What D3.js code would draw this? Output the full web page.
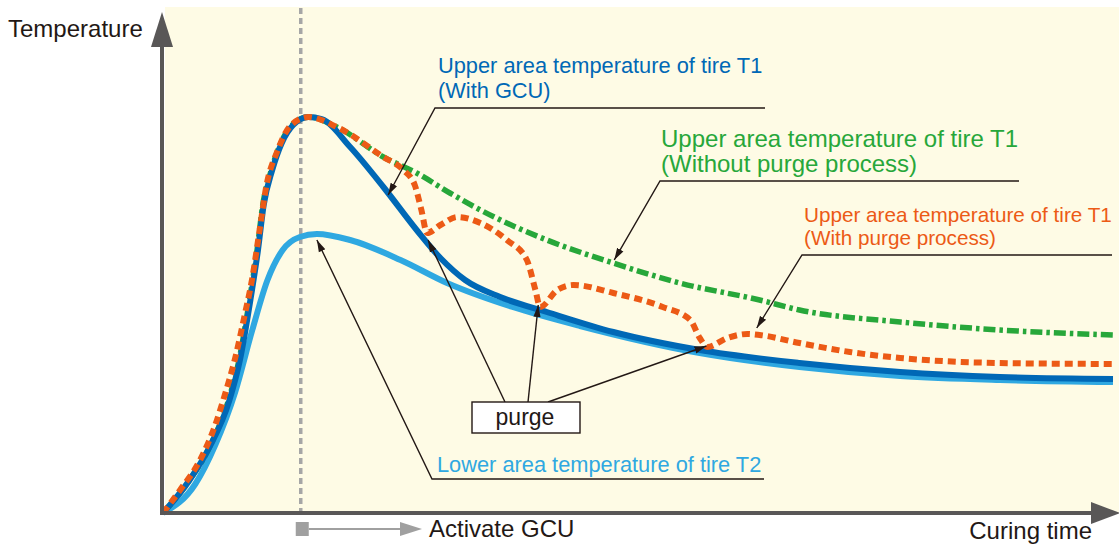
<!DOCTYPE html>
<html>
<head>
<meta charset="utf-8">
<script src="https://cdn.jsdelivr.net/npm/d3@7"></script>
<style>
  body { margin: 0; background: #fff; }
  svg { display: block; font-family: "Liberation Sans", Arial, sans-serif; }
</style>
</head>
<body>
<div id="chart"></div>
<script>
// ---------------------------------------------------------------------------
// Data (time and temperature in relative units, 0..100)

const gcuStart = 14.5;

// upper area T1, with GCU
const t1WithGcu = [
  [0, 0], [2.8, 6.6], [4.9, 13.2], [7.0, 22.6], [8.1, 30.6], [9.2, 42.6],
  [10.0, 52.6], [10.6, 61.6], [11.5, 68.6], [12.5, 74], [13.7, 77.6],
  [15.3, 79.2], [16.7, 78.8], [19.7, 73.2], [23.2, 65.2], [26.7, 56.6],
  [29.2, 51], [31.8, 46.6], [35.5, 43.2], [40.4, 40.2], [47.4, 36.2],
  [56.5, 32.6], [67.0, 30], [77.6, 28.2], [88.1, 27.2], [100, 26.8]
];

// lower area T2
const t2Lower = [
  [0, 0], [3.4, 5.8], [5.5, 13.6], [7.6, 24.2], [9.4, 36.6], [11.0, 46.6],
  [12.6, 52.6], [14.4, 55.2], [16.2, 55.8], [19.7, 54.6], [25.0, 50.6],
  [29.9, 46], [36.8, 41.2], [43.9, 37.4], [56.5, 32], [67.0, 29.2],
  [77.6, 27.4], [88.1, 26.6], [100, 26.2]
];

// upper area T1, without purge process
const t1NoPurge = [
  [0, 0], [2.8, 6.6], [4.9, 13.2], [6.9, 22.6], [8.0, 30.6], [9.1, 42.6],
  [9.9, 52.6], [10.5, 61.6], [11.4, 68.6], [12.4, 74], [13.6, 77.6],
  [15.3, 79.2], [18.3, 77.2], [23.2, 71.2], [26.7, 68], [30.2, 64],
  [33.4, 60.6], [40.4, 54.6], [47.4, 50], [54.4, 46], [62.8, 42.6],
  [67.0, 40.6], [77.6, 38.2], [88.1, 36.6], [100, 35.6]
];

// upper area T1, with purge process
const t1Purge = [
  [0, 0], [1.8, 4.6], [3.9, 10.6], [5.5, 17.6], [6.5, 23.6], [7.6, 31],
  [8.6, 39.6], [9.4, 47], [10.2, 57], [10.9, 65.6], [12.0, 72.2],
  [13.4, 77.4], [15.3, 79.2], [18.3, 77.2], [23.2, 71.2], [25.3, 68.6],
  [26.5, 65.6], [27.2, 60.6], [27.8, 56], [29.2, 57.6], [31.0, 59.2],
  [33.4, 58], [36.2, 54.6], [38.3, 50.6], [39.2, 44.6], [39.7, 41.2],
  [41.5, 44.6], [43.2, 45.6], [47.4, 44], [52.6, 41.2], [55.5, 38.6],
  [56.5, 35], [57.3, 33.2], [59.4, 35], [61.5, 35.8], [62.8, 35.6],
  [67.0, 34], [72.3, 32.2], [77.6, 31], [88.1, 30], [100, 29.8]
];

const labelT1Gcu = ['Upper area temperature of tire T1', '(With GCU)'];
const labelT1NoPurge = ['Upper area temperature of tire T1', '(Without purge process)'];
const labelT1Purge = ['Upper area temperature of tire T1', '(With purge process)'];
const labelT2 = ['Lower area temperature of tire T2'];

// points the purge arrows target
const purgePoints = [[27.9, 54.6], [39.5, 41.6], [57.2, 33.4]];

// ---------------------------------------------------------------------------
// Layout

const width = 1119;
const height = 544;
const axisColor = '#595757';
const inkColor = '#231815';

const x = d3.scaleLinear().domain([0, 100]).range([163, 1113]);
const y = d3.scaleLinear().domain([0, 100]).range([513, 13]);

const svg = d3.select('#chart')
  .append('svg')
  .attr('width', width)
  .attr('height', height);

const defs = svg.append('defs');
defs.append('marker')
  .attr('id', 'tip')
  .attr('markerUnits', 'userSpaceOnUse')
  .attr('viewBox', '0 -5 12 10')
  .attr('refX', 12).attr('refY', 0)
  .attr('markerWidth', 12).attr('markerHeight', 10)
  .attr('orient', 'auto')
  .append('path')
  .attr('d', 'M0,-3.6L12,0L0,3.6Z')
  .attr('fill', inkColor);

// plot background
svg.append('rect')
  .attr('x', 165).attr('y', 7)
  .attr('width', width - 165).attr('height', 506)
  .attr('fill', '#fefbe5');

// GCU start line
svg.append('line')
  .attr('x1', x(gcuStart)).attr('x2', x(gcuStart))
  .attr('y1', 8).attr('y2', y(0))
  .attr('stroke', '#a6a6a6')
  .attr('stroke-width', 3.5)
  .attr('stroke-dasharray', '6,4');

// curves
const line = d3.line()
  .x(d => x(d[0]))
  .y(d => y(d[1]))
  .curve(d3.curveMonotoneX);

const series = [
  {data: t2Lower, color: '#2fa8e1', w: 6, dash: null},
  {data: t1NoPurge, color: '#27a73a', w: 5.5, dash: '12,4,3.5,4'},
  {data: t1WithGcu, color: '#0068b6', w: 6, dash: null},
  {data: t1Purge, color: '#ec5a16', w: 6, dash: '8,5'},
];

svg.selectAll('path.curve')
  .data(series)
  .enter()
  .append('path')
  .attr('class', 'curve')
  .attr('d', d => line(d.data))
  .attr('fill', 'none')
  .attr('stroke', d => d.color)
  .attr('stroke-width', d => d.w)
  .attr('stroke-dasharray', d => d.dash);

// axes with arrowheads
svg.append('line')
  .attr('x1', 162).attr('x2', 162)
  .attr('y1', 515).attr('y2', 40)
  .attr('stroke', axisColor).attr('stroke-width', 4);
svg.append('path')
  .attr('d', 'M162,12L173,47L151,47Z')
  .attr('fill', axisColor);

svg.append('line')
  .attr('x1', 160).attr('x2', 1095)
  .attr('y1', 513).attr('y2', 513)
  .attr('stroke', axisColor).attr('stroke-width', 4);
svg.append('path')
  .attr('d', 'M1120,513L1091,502L1091,524Z')
  .attr('fill', axisColor);

svg.append('text')
  .attr('x', 8).attr('y', 37)
  .attr('font-size', 24)
  .attr('fill', inkColor)
  .text('Temperature');

svg.append('text')
  .attr('x', 1092).attr('y', 539)
  .attr('text-anchor', 'end')
  .attr('font-size', 24)
  .attr('fill', inkColor)
  .text('Curing time');

// activate GCU marker
const gx = x(gcuStart);
svg.append('rect')
  .attr('x', gx - 5).attr('y', 522)
  .attr('width', 13).attr('height', 14)
  .attr('fill', '#a0a0a0');
svg.append('line')
  .attr('x1', gx + 8).attr('x2', 404)
  .attr('y1', 529).attr('y2', 529)
  .attr('stroke', '#a0a0a0').attr('stroke-width', 2);
svg.append('path')
  .attr('d', 'M422,529L400,522L400,536Z')
  .attr('fill', '#a0a0a0');
svg.append('text')
  .attr('x', 429).attr('y', 537)
  .attr('font-size', 24)
  .attr('fill', inkColor)
  .text('Activate GCU');

// ---------------------------------------------------------------------------
// Annotations

const annotations = [
  {lines: labelT1Gcu, color: '#0068b6', size: 21.8, lh: 25, tx: 438, ty: 73, ux1: 435, ux2: 765, uy: 108, target: [23.7, 63.6]},
  {lines: labelT1NoPurge, color: '#27a73a', size: 24, lh: 25, tx: 661, ty: 147, ux1: 660, ux2: 1019, uy: 181, target: [47.5, 50.6]},
  {lines: labelT1Purge, color: '#ec5a16', size: 20.7, lh: 23, tx: 804, ty: 222, ux1: 802, ux2: 1112, uy: 255, target: [62.5, 37]},
  {lines: labelT2, color: '#2fa8e1', size: 21.8, lh: 25, tx: 437, ty: 472, ux1: 432, ux2: 764, uy: 479, target: [16.2, 54.6]},
];

const ann = svg.selectAll('g.ann')
  .data(annotations)
  .enter()
  .append('g')
  .attr('class', 'ann');

ann.append('text')
  .attr('font-size', d => d.size)
  .attr('fill', d => d.color)
  .each(function(d) {
    d3.select(this).selectAll('tspan')
      .data(d.lines)
      .enter()
      .append('tspan')
      .attr('x', d.tx)
      .attr('y', (l, i) => d.ty + i * d.lh)
      .text(l => l);
  });

ann.append('path')
  .attr('d', d => `M${d.ux2},${d.uy}L${d.ux1},${d.uy}L${x(d.target[0])},${y(d.target[1])}`)
  .attr('fill', 'none')
  .attr('stroke', inkColor)
  .attr('stroke-width', 1.4)
  .attr('marker-end', 'url(#tip)');

// purge box
const starts = [505, 528, 548];
svg.selectAll('line.purge')
  .data(purgePoints)
  .enter()
  .append('line')
  .attr('class', 'purge')
  .attr('x1', (d, i) => starts[i]).attr('y1', 402)
  .attr('x2', d => x(d[0])).attr('y2', d => y(d[1]))
  .attr('stroke', inkColor)
  .attr('stroke-width', 1.4)
  .attr('marker-end', 'url(#tip)');

svg.append('rect')
  .attr('x', 472).attr('y', 402)
  .attr('width', 108).attr('height', 31)
  .attr('fill', '#fff')
  .attr('stroke', inkColor)
  .attr('stroke-width', 1.4);
svg.append('text')
  .attr('x', 525).attr('y', 425)
  .attr('text-anchor', 'middle')
  .attr('font-size', 23)
  .attr('fill', inkColor)
  .text('purge');
</script>
</body>
</html>
